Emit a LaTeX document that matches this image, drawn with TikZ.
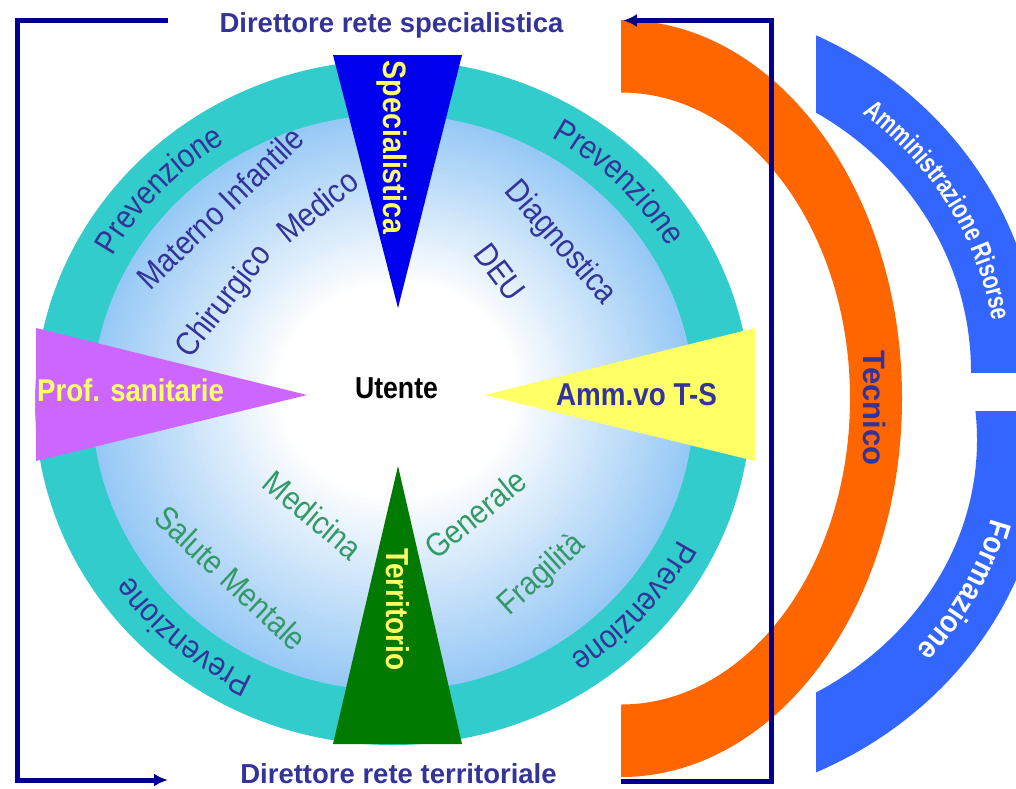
\documentclass[tikz,border=0pt]{standalone}
\usepackage{fontspec}
\setmainfont{Liberation Sans}
\newfontfamily\condfam[FakeStretch=0.88]{Liberation Sans}
\newfontfamily\narrowfam[FakeStretch=0.76]{Liberation Sans}
\usetikzlibrary{arrows.meta,decorations.text}
\definecolor{navyline}{RGB}{0,0,140}
\definecolor{navytext}{RGB}{51,51,153}
\definecolor{tealc}{RGB}{51,204,204}
\definecolor{lb}{RGB}{150,200,245}
\definecolor{specblue}{RGB}{0,0,238}
\definecolor{terrgreen}{RGB}{0,122,0}
\definecolor{purp}{RGB}{204,102,255}
\definecolor{yel}{RGB}{255,255,102}
\definecolor{yelt}{RGB}{255,255,102}
\definecolor{orng}{RGB}{255,102,0}
\definecolor{bluearc}{RGB}{51,102,255}
\definecolor{greentext}{RGB}{51,153,102}
\begin{document}
\begin{tikzpicture}[x=1pt,y=1pt,
  title/.style={font=\fontsize{27.5}{30}\selectfont\bfseries, text=navytext, inner sep=0pt, anchor=base},
  innerlbl/.style={font=\condfam\fontsize{33}{36}\selectfont, inner sep=0pt, text=navytext},
  greenlbl/.style={innerlbl, text=greentext},
  conn/.style={draw=navyline, line width=5pt},
  arrowend/.style={-{Latex[length=14pt,width=13pt]}},
]
\useasboundingbox (0,0) rectangle (1016,-788);
\fill[white] (0,0) rectangle (1016,-788);

% ---- main disc ----
\coordinate (ctr) at (393,-402.5);
\fill[tealc] (ctr) ellipse [x radius=358pt, y radius=342.5pt];
\foreach \i in {0,...,40}{
  \pgfmathsetmacro\s{\i/40}
  \pgfmathsetmacro\cxx{393+5*\s}
  \pgfmathsetmacro\cyy{-402.5+12.5*\s}
  \pgfmathsetmacro\rx{301-183*\s}
  \pgfmathsetmacro\ry{288-181*\s}
  \pgfmathtruncatemacro\pct{100*(1-\s)}
  \fill[lb!\pct!white] (\cxx,\cyy) ellipse [x radius=\rx pt, y radius=\ry pt];
}
\fill[white] (398,-390) ellipse [x radius=118pt, y radius=107pt];

% ---- wedges ----
\fill[specblue] (333,-55) -- (462,-55) -- (398,-308) -- cycle;
\fill[terrgreen] (333,-744) -- (462,-744) -- (398,-466) -- cycle;
\fill[purp] (36,-328) -- (36,-461) -- (307,-395) -- cycle;
\fill[yel] (755,-328) -- (755,-461) -- (485,-395) -- cycle;

\node[font=\condfam\bfseries\fontsize{32.5}{35}\selectfont, text=yelt, inner sep=0pt, rotate=-90] (spec) at (392,-147.5) {Specialistica};
\node[font=\condfam\bfseries\fontsize{31.8}{34}\selectfont, text=yelt, inner sep=0pt, rotate=-90] (terr) at (398,-609.5) {Territorio};
\node[font=\condfam\bfseries\fontsize{31.4}{34}\selectfont, text=yelt, inner sep=0pt, anchor=base] (prof) at (130.5,-401) {Prof. sanitarie};
\node[font=\condfam\bfseries\fontsize{31.6}{34}\selectfont, text=navytext, inner sep=0pt, anchor=base] (amm) at (636.5,-405) {Amm.vo T-S};
\node[font=\condfam\bfseries\fontsize{30.3}{33}\selectfont, text=black, inner sep=0pt, anchor=base] (utente) at (396.5,-398) {Utente};

% ---- Prevenzione ring texts ----
\path[decorate, decoration={text along path, text align=center, text color=navytext,
  text={|\condfam\fontsize{33}{36}\selectfont|Prevenzione}}]
  ([shift={(177:319.5pt and 305pt)}]ctr) arc[start angle=177, end angle=97, x radius=319.5pt, y radius=305pt];
\path[decorate, decoration={text along path, text align=center, text color=navytext,
  text={|\condfam\fontsize{33}{36}\selectfont|Prevenzione}}]
  ([shift={(85:319.5pt and 305pt)}]ctr) arc[start angle=85, end angle=5, x radius=319.5pt, y radius=305pt];
\path[decorate, decoration={text along path, text align=center, text color=navytext,
  text={|\condfam\fontsize{33}{36}\selectfont|Prevenzione}}]
  ([shift={(-1:319.5pt and 305pt)}]ctr) arc[start angle=-1, end angle=-81, x radius=319.5pt, y radius=305pt];
\path[decorate, decoration={text along path, text align=center, text color=navytext,
  text={|\condfam\fontsize{33}{36}\selectfont|Prevenzione}}]
  ([shift={(269:319.5pt and 305pt)}]ctr) arc[start angle=269, end angle=189, x radius=319.5pt, y radius=305pt];

% ---- inner labels ----
\node[innerlbl, rotate=44] (mat) at (220,-208) {Materno Infantile};
\node[innerlbl, rotate=52] (chi) at (225,-302) {Chirurgico};
\node[innerlbl, rotate=39] (med) at (317,-206) {Medico};
\node[innerlbl, rotate=-49] (dia) at (560,-243) {Diagnostica};
\node[innerlbl, rotate=-53] (deu) at (500,-272) {DEU};
\node[greenlbl, rotate=-40] (medi) at (313,-515) {Medicina};
\node[greenlbl, rotate=-43] (sal) at (231,-578) {Salute Mentale};
\node[greenlbl, rotate=39] (gen) at (475,-514) {Generale};
\node[greenlbl, rotate=42] (fra) at (542,-575) {Fragilità};

% ---- right arcs ----
\begin{scope}
  \clip (621,0) rectangle (1016,-788);
  \fill[orng, even odd rule] (621,-398.5) ellipse [x radius=281pt, y radius=378.5pt]
        (621,-398.5) ellipse [x radius=229pt, y radius=306pt];
\end{scope}
\begin{scope}
  \clip (816,0) rectangle (1016,-372);
  \fill[bluearc, even odd rule] (650,-372) ellipse [x radius=390pt, y radius=372pt]
        (650,-372) ellipse [x radius=321pt, y radius=303pt];
\end{scope}
\begin{scope}
  \clip (816,-411) rectangle (1016,-788);
  \fill[bluearc, even odd rule] (650,-440) ellipse [x radius=396pt, y radius=366pt]
        (650,-440) ellipse [x radius=327pt, y radius=293pt];
\end{scope}
\coordinate (ua) at (650,-372);
\coordinate (la) at (650,-440);
\node[font=\bfseries\fontsize{31}{34}\selectfont, text=navytext, inner sep=0pt, rotate=-90] (tec) at (875,-408) {Tecnico};
\path[decorate, decoration={text along path, text align=center, text color=white,
  text={|\narrowfam\bfseries\fontsize{27.5}{30}\selectfont|Amministrazione Risorse}}]
  ([shift={(75:346pt and 328pt)}]ua) arc[start angle=75, end angle=-15, x radius=346pt, y radius=328pt];
\path[decorate, decoration={text along path, text align=center, text color=white,
  text={|\condfam\bfseries\fontsize{31}{34}\selectfont|Formazione}}]
  ([shift={(18.5:352.5pt and 320.5pt)}]la) arc[start angle=18.5, end angle=-71.5, x radius=352.5pt, y radius=320.5pt];

% ---- connectors ----
\coordinate (l1) at (168,-20.5);
\coordinate (l2) at (17,-20.5);
\coordinate (l3) at (17,-780);
\coordinate (l4) at (168,-780);
\draw[conn, arrowend] (l1) -- (l2) -- (l3) -- (l4);
\coordinate (r1) at (621,-781);
\coordinate (r2) at (771,-781);
\coordinate (r3) at (771,-20.5);
\coordinate (r4) at (623,-20.5);
\draw[conn, arrowend] (r1) -- (r2) -- (r3) -- (r4);

% ---- titles ----
\node[title] (t1) at (391.5,-32) {Direttore rete specialistica};
\node[title] (t2) at (398.5,-783) {Direttore rete territoriale};
\end{tikzpicture}
\end{document}
